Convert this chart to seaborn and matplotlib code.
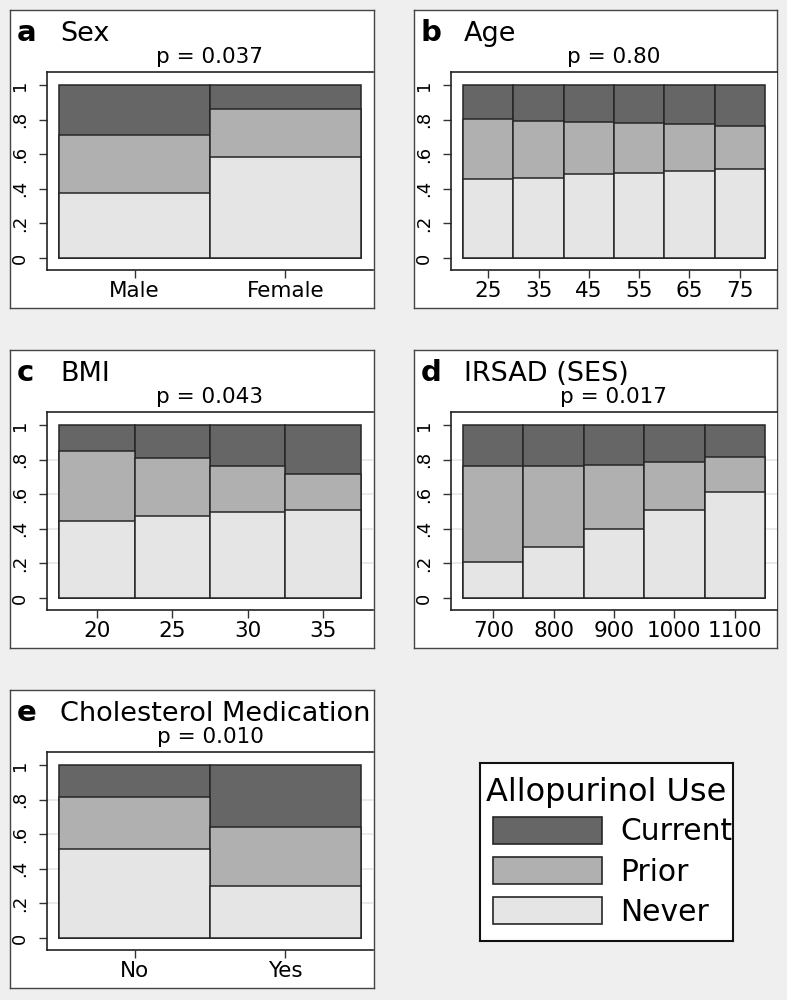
import numpy as np
import pandas as pd
import matplotlib
matplotlib.use("Agg")
import matplotlib.pyplot as plt
from matplotlib.patches import Patch
import seaborn as sns

# === Data (shares of each group: never / prior / current allopurinol use) ===
sex_cats = ["Male", "Female"]
sex_never = [0.375, 0.583]
sex_prior = [0.335, 0.278]
sex_current = [0.290, 0.139]

age_vals = [25, 35, 45, 55, 65, 75]
age_never = [0.454, 0.465, 0.483, 0.492, 0.504, 0.515]
age_prior = [0.347, 0.328, 0.303, 0.286, 0.270, 0.249]
age_current = [0.199, 0.207, 0.214, 0.222, 0.226, 0.236]

bmi_vals = [20, 25, 30, 35]
bmi_never = [0.444, 0.477, 0.498, 0.510]
bmi_prior = [0.403, 0.332, 0.266, 0.208]
bmi_current = [0.153, 0.191, 0.236, 0.282]

irsad_vals = [700, 800, 900, 1000, 1100]
irsad_never = [0.210, 0.297, 0.400, 0.510, 0.614]
irsad_prior = [0.554, 0.464, 0.370, 0.278, 0.199]
irsad_current = [0.236, 0.239, 0.230, 0.212, 0.187]

chol_cats = ["No", "Yes"]
chol_never = [0.514, 0.303]
chol_prior = [0.303, 0.336]
chol_current = [0.183, 0.361]

use_levels = ["Current", "Prior", "Never"]
use_colors = {"Current": "#666666", "Prior": "#b0b0b0", "Never": "#e5e5e5"}

# === Setup ===
sns.set_style("white")
plt.rcParams["font.family"] = ["DejaVu Sans"]
plt.rcParams["text.color"] = "black"
plt.rcParams["xtick.color"] = "black"
plt.rcParams["ytick.color"] = "black"
W, H = 787, 1000
bg = "#efefef"
fig = plt.figure(figsize=(W / 100, H / 100), dpi=100, facecolor=bg)


def box(x0, y0, x1, y1):
    # pixel box (top-left origin) -> figure rect
    return [x0 / W, 1 - y1 / H, (x1 - x0) / W, (y1 - y0) / H]


def frame_axes(rect, edge="#444444", lw=1.0):
    fr = fig.add_axes(box(*rect), zorder=0)
    fr.set_facecolor("white")
    fr.set_xticks([])
    fr.set_yticks([])
    for s in fr.spines.values():
        s.set_color(edge)
        s.set_linewidth(lw)
    return fr


def panel(frame, inner, letter, title, ptext, x, never, prior, current,
          native, xlim, grid):
    fx0, fy0, fx1, fy1 = frame
    frame_axes(frame)

    ax = fig.add_axes(box(*inner), zorder=1)
    df = pd.DataFrame({"x": x, "Never": never, "Prior": prior, "Current": current})
    df["top_current"] = df["Never"] + df["Prior"] + df["Current"]
    df["top_prior"] = df["Never"] + df["Prior"]
    df["top_never"] = df["Never"]
    if grid:
        for yv in [0.2, 0.4, 0.6, 0.8]:
            ax.axhline(yv, color="#e6e6e6", lw=1.2, zorder=0)
    for lvl, col in zip(use_levels, ["top_current", "top_prior", "top_never"]):
        sns.barplot(data=df, x="x", y=col, ax=ax, color=use_colors[lvl],
                    saturation=1, width=1, errorbar=None, native_scale=native,
                    order=None if native else list(x),
                    edgecolor="#262626", linewidth=1.1, zorder=2)
    ax.set_xlim(*xlim)
    ax.set_ylim(-0.069, 1.075)
    ax.set_yticks([0, 0.2, 0.4, 0.6, 0.8, 1.0])
    ax.set_yticklabels(["0", ".2", ".4", ".6", ".8", "1"], rotation=90, va="center")
    if native:
        ax.set_xticks(x)
        ax.set_xticklabels([str(v) for v in x])
    ax.tick_params(axis="x", labelsize=15.5, length=6, width=1, color="#333333",
                   pad=2, bottom=True)
    ax.tick_params(axis="y", labelsize=13, length=6, width=1, color="#333333",
                   pad=7, left=True)
    ax.set_xlabel("")
    ax.set_ylabel("")
    for s in ["left", "bottom", "top"]:
        ax.spines[s].set_color("#222222")
        ax.spines[s].set_linewidth(1.2)
    ax.spines["right"].set_visible(False)

    fig.text((fx0 + 7) / W, 1 - (fy0 + 31) / H, letter, fontsize=21,
             fontweight="bold", va="baseline", ha="left")
    fig.text((fx0 + 50) / W, 1 - (fy0 + 31) / H, title, fontsize=19.5,
             va="baseline", ha="left")
    cx = (inner[0] + inner[2]) / 2
    fig.text(cx / W, 1 - (fy0 + 53) / H, ptext, fontsize=15.5,
             va="baseline", ha="center")


# === Panels ===
panel((10, 10, 374, 308), (47, 72, 373, 270), "a", "Sex", "p = 0.037",
      sex_cats, sex_never, sex_prior, sex_current, False, (-0.58, 1.58), False)
panel((414, 10, 777, 308), (451, 72, 777, 270), "b", "Age", "p = 0.80",
      age_vals, age_never, age_prior, age_current, True, (17.6, 82.4), False)
panel((10, 350, 374, 648), (47, 412, 373, 610), "c", "BMI", "p = 0.043",
      bmi_vals, bmi_never, bmi_prior, bmi_current, True, (16.7, 38.3), True)
panel((414, 350, 777, 648), (451, 412, 777, 610), "d", "IRSAD (SES)", "p = 0.017",
      irsad_vals, irsad_never, irsad_prior, irsad_current, True, (630, 1170), True)
panel((10, 690, 374, 988), (47, 752, 373, 950), "e", "Cholesterol Medication",
      "p = 0.010", chol_cats, chol_never, chol_prior, chol_current, False,
      (-0.58, 1.58), True)

# === Legend (frame and title drawn separately for tight control) ===
frame_axes((480, 763, 733, 941), edge="#111111", lw=1.5)
fig.text(606.5 / W, 1 - 801 / H, "Allopurinol Use", fontsize=23,
         ha="center", va="baseline")
handles = [Patch(facecolor=use_colors[l], edgecolor="#262626", linewidth=1.2)
           for l in use_levels]
leg = fig.legend(handles, use_levels, loc="upper left",
                 bbox_to_anchor=(493 / W, 1 - 817 / H),
                 fontsize=21.4, frameon=False, handlelength=3.67,
                 handleheight=1.0, labelspacing=0.36, handletextpad=0.6,
                 borderpad=0, borderaxespad=0)
leg.set_zorder(5)

plt.savefig("out.png", dpi=100, facecolor=bg)
